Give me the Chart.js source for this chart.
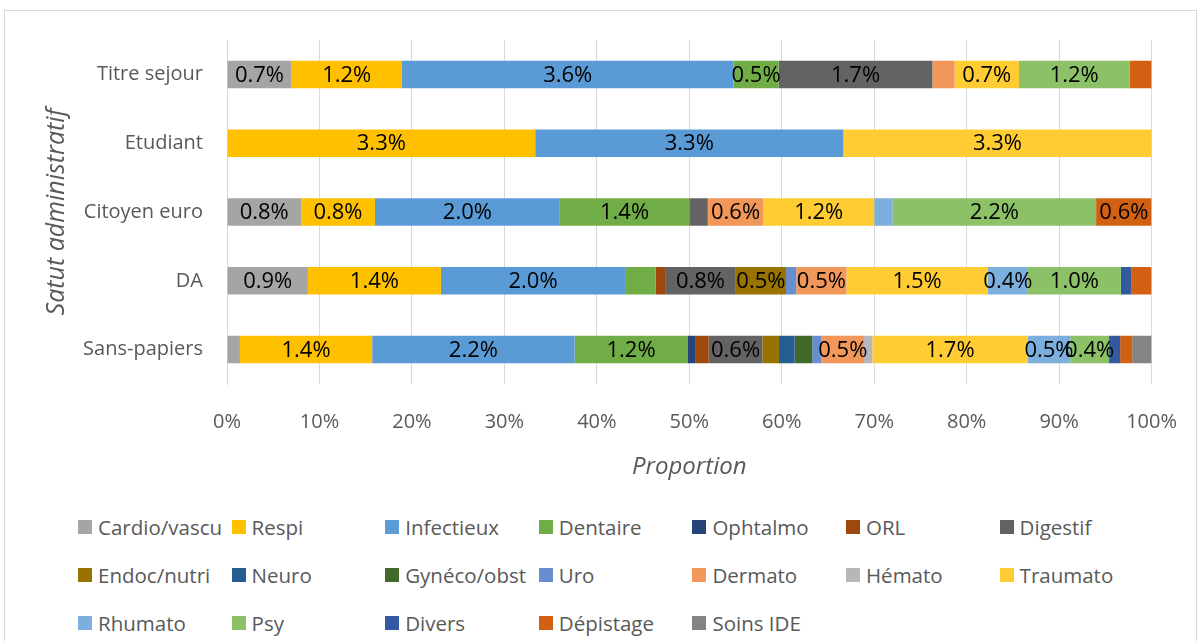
<!DOCTYPE html>
<html>
<head>
<meta charset="utf-8">
<script src="https://cdn.jsdelivr.net/npm/chart.js@4/dist/chart.umd.min.js"></script>
<style>
  html, body { margin: 0; padding: 0; background: #fff; }
  body { width: 1203px; height: 641px; position: relative; overflow: hidden; font-family: "Open Sans", sans-serif; }
  #frame { position: absolute; left: 4px; top: 10px; width: 1193px; height: 660px; border: 1px solid #D9D9D9; box-sizing: border-box; }
  #wrap { position: absolute; left: 0; top: 0; width: 1203px; height: 494px; }
  #legend { position: absolute; left: 0; top: 0; }
  .item { position: absolute; height: 24px; display: flex; align-items: center; color: #595959; font-size: 20.5px; white-space: nowrap; }
  .box { width: 14px; height: 14px; margin-right: 6px; }
</style>
</head>
<body>
<div id="frame"></div>
<div id="wrap"><canvas id="chart"></canvas></div>
<div id="legend"></div>
<script>
// Categories, top to bottom
const categories = ["Titre sejour", "Etudiant", "Citoyen euro", "DA", "Sans-papiers"];

// Values (%) per series, in the order of categories
const cardio    = [0.70, 0,    0.80, 0.87, 0.14];
const respi     = [1.20, 3.33, 0.80, 1.43, 1.43];
const infectieux= [3.60, 3.33, 2.00, 1.98, 2.19];
const dentaire  = [0.49, 0,    1.40, 0.33, 1.22];
const ophtalmo  = [0,    0,    0,    0,    0.09];
const orl       = [0,    0,    0,    0.10, 0.14];
const digestif  = [1.67, 0,    0.20, 0.76, 0.58];
const endoc     = [0,    0,    0,    0.54, 0.18];
const neuro     = [0,    0,    0,    0,    0.17];
const gyneco    = [0,    0,    0,    0,    0.19];
const uro       = [0,    0,    0,    0.11, 0.10];
const dermato   = [0.24, 0,    0.60, 0.54, 0.46];
const hemato    = [0,    0,    0,    0,    0.09];
const traumato  = [0.70, 3.33, 1.20, 1.52, 1.68];
const rhumato   = [0,    0,    0.20, 0.43, 0.46];
const psy       = [1.20, 0,    2.20, 1.00, 0.42];
const divers    = [0,    0,    0,    0.11, 0.12];
const depistage = [0.24, 0,    0.60, 0.22, 0.13];
const soinsIde  = [0,    0,    0,    0,    0.21];

const seriesNames = ["Cardio/vascu", "Respi", "Infectieux", "Dentaire", "Ophtalmo", "ORL", "Digestif",
  "Endoc/nutri", "Neuro", "Gynéco/obst", "Uro", "Dermato", "Hémato", "Traumato",
  "Rhumato", "Psy", "Divers", "Dépistage", "Soins IDE"];
const seriesValues = [cardio, respi, infectieux, dentaire, ophtalmo, orl, digestif,
  endoc, neuro, gyneco, uro, dermato, hemato, traumato,
  rhumato, psy, divers, depistage, soinsIde];
const seriesColors = ["#A5A5A5", "#FFC000", "#5B9BD5", "#70AD47", "#264478", "#9E480E", "#636363",
  "#997300", "#255E91", "#43682B", "#698ED0", "#F1975A", "#B7B7B7", "#FFCD33",
  "#7CAFDD", "#8CC168", "#335AA1", "#D26012", "#848484"];

const xTicks = [0, 10, 20, 30, 40, 50, 60, 70, 80, 90, 100];
const labelMin = 0.35; // smaller segments carry no label

// totals per category, used to turn values into proportions
const totals = categories.map((c, j) => seriesValues.reduce((s, v) => s + v[j], 0));

function buildChart() {
  // Draw value labels centered in each segment
  const segmentLabels = {
    id: "segmentLabels",
    afterDatasetsDraw(chart) {
      const ctx = chart.ctx;
      ctx.save();
      ctx.font = '22px "Open Sans"';
      ctx.fillStyle = "#000";
      ctx.textAlign = "center";
      ctx.textBaseline = "middle";
      chart.data.datasets.forEach((ds, i) => {
        const meta = chart.getDatasetMeta(i);
        meta.data.forEach((el, j) => {
          const v = ds.raw[j];
          if (v < labelMin) return;
          const p = el.getProps(["x", "y", "base"], true);
          ctx.fillText(v.toFixed(1) + "%", (p.x + p.base) / 2, p.y + 1);
        });
      });
      ctx.restore();
    }
  };

  new Chart(document.getElementById("chart"), {
    type: "bar",
    data: {
      labels: categories,
      datasets: seriesNames.map((name, i) => ({
        label: name,
        raw: seriesValues[i],
        data: seriesValues[i].map((v, j) => v / totals[j] * 100),
        backgroundColor: seriesColors[i],
        borderWidth: 0,
        categoryPercentage: 1,
        barPercentage: 0.4
      }))
    },
    options: {
      indexAxis: "y",
      responsive: true,
      maintainAspectRatio: false,
      animation: false,
      layout: { padding: { left: 0, right: 49, top: 40, bottom: 0 } },
      plugins: { legend: { display: false }, tooltip: { enabled: false } },
      scales: {
        x: {
          stacked: true,
          min: 0,
          max: 100,
          afterBuildTicks: (scale) => { scale.ticks = xTicks.map(v => ({ value: v })); },
          afterFit: (scale) => { scale.height = 110; },
          grid: { color: "#D9D9D9", drawTicks: false },
          border: { display: false },
          ticks: {
            padding: 26,
            color: "#595959",
            font: { family: "Open Sans", size: 20 },
            callback: (v) => v + "%"
          },
          title: {
            display: true,
            text: "Proportion",
            color: "#595959",
            font: { family: "Open Sans", size: 24, style: "italic" },
            padding: { top: 0, bottom: 12 }
          }
        },
        y: {
          stacked: true,
          afterFit: (scale) => { scale.width = 227; },
          grid: { display: false, drawTicks: false },
          border: { display: true, color: "#D9D9D9", width: 1 },
          ticks: {
            padding: 24,
            color: "#595959",
            font: { family: "Open Sans", size: 20 }
          },
          title: {
            display: true,
            text: "Satut administratif",
            color: "#595959",
            font: { family: "Open Sans", size: 25, style: "italic" },
            padding: { top: 42, bottom: 0 }
          }
        }
      }
    },
    plugins: [segmentLabels]
  });

  // Legend: 7 columns, 3 rows
  const legend = document.getElementById("legend");
  seriesNames.forEach((name, i) => {
    const row = Math.floor(i / 7), col = i % 7;
    const item = document.createElement("div");
    item.className = "item";
    item.style.left = (78 + col * 153.6) + "px";
    item.style.top = (527 + row * 48 - 12) + "px";
    const box = document.createElement("span");
    box.className = "box";
    box.style.background = seriesColors[i];
    item.appendChild(box);
    item.appendChild(document.createTextNode(name));
    legend.appendChild(item);
  });
}

Promise.all([
  document.fonts.load('20px "Open Sans"'),
  document.fonts.load('italic 24px "Open Sans"')
]).then(buildChart, buildChart);
</script>
</body>
</html>
